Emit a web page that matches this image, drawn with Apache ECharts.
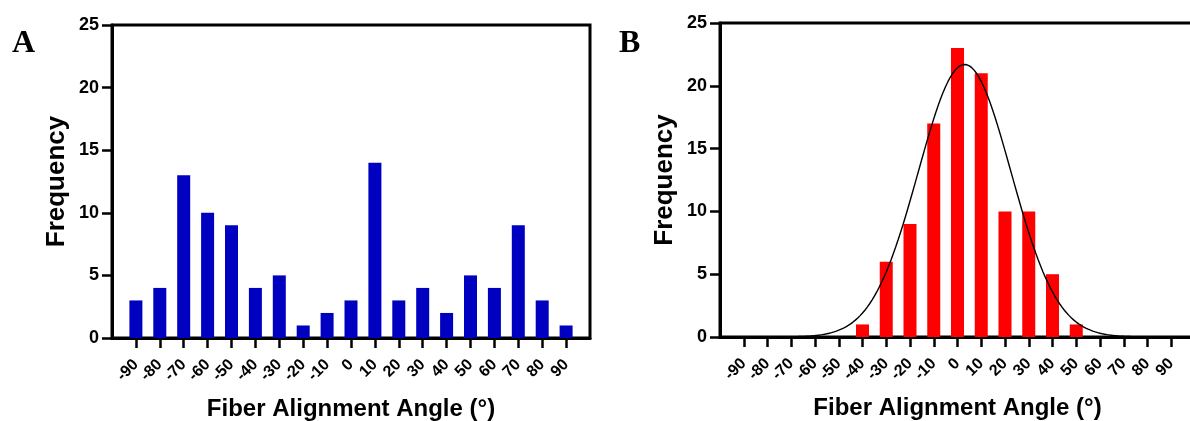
<!DOCTYPE html>
<html>
<head>
<meta charset="utf-8">
<script src="https://cdn.jsdelivr.net/npm/echarts@6/dist/echarts.min.js"></script>
<style>
  html, body { margin: 0; padding: 0; background: #fff; }
  #chart { width: 1190px; height: 421px; }
</style>
</head>
<body>
<div id="chart"></div>
<script>
// Bin centres (degrees) shared by both histograms
const angles = [-90, -80, -70, -60, -50, -40, -30, -20, -10, 0, 10, 20, 30, 40, 50, 60, 70, 80, 90];
// Panel A: fiber counts per bin
const freqA = [3, 4, 13, 10, 9, 4, 5, 1, 2, 3, 14, 3, 4, 2, 5, 4, 9, 3, 1];
// Panel B: fiber counts per bin
const freqB = [0, 0, 0, 0, 0, 1, 6, 9, 17, 23, 21, 10, 10, 5, 1, 0, 0, 0, 0];
// Frequency axis ticks
const freqTicks = [0, 5, 10, 15, 20, 25];
// Gaussian fit overlaid on panel B
const fitAmplitude = 21.7;
const fitMean = 3;
const fitSigma = 19.5;

const SANS = '"Liberation Sans", Arial, sans-serif';
const SERIF = '"Liberation Serif", "Times New Roman", serif';

const pairsA = angles.map((a, i) => [a, freqA[i]]);
const pairsB = angles.map((a, i) => [a, freqB[i]]);
const fitCurve = [];
for (let x = -100; x <= 100; x += 1) {
  fitCurve.push([x, fitAmplitude * Math.exp(-Math.pow(x - fitMean, 2) / (2 * fitSigma * fitSigma))]);
}

function xAxisFor(gridIndex) {
  return {
    type: 'value', gridIndex: gridIndex, min: -100, max: 100, interval: 10,
    axisLine: { show: true, onZero: false, lineStyle: { color: '#000', width: 3 } },
    axisTick: { show: true, length: 10, customValues: angles, lineStyle: { color: '#000', width: 2.5 } },
    axisLabel: {
      rotate: 45, customValues: angles, margin: 24, hideOverlap: false,
      showMinLabel: true, showMaxLabel: true,
      fontSize: 16, fontWeight: 'bold', color: '#000', fontFamily: SANS
    },
    splitLine: { show: false },
    name: 'Fiber Alignment Angle (°)', nameLocation: 'middle', nameGap: 59,
    nameTextStyle: { fontSize: 24, fontWeight: 'bold', color: '#000', fontFamily: SANS }
  };
}
function yAxisFor(gridIndex) {
  return {
    type: 'value', gridIndex: gridIndex, min: freqTicks[0], max: freqTicks[freqTicks.length - 1], interval: 5,
    axisLine: { show: true, onZero: false, lineStyle: { color: '#000', width: 3 } },
    axisTick: { show: true, length: 10, lineStyle: { color: '#000', width: 2.5 } },
    axisLabel: { margin: 13, fontSize: 18, fontWeight: 'bold', color: '#000', fontFamily: SANS },
    splitLine: { show: false },
    name: 'Frequency', nameLocation: 'middle', nameGap: 42, nameRotate: 90,
    nameTextStyle: { fontSize: 26, fontWeight: 'bold', color: '#000', fontFamily: SANS }
  };
}

const chart = echarts.init(document.getElementById('chart'), null, { renderer: 'canvas' });
chart.setOption({
  animation: false,
  backgroundColor: '#fff',
  grid: [
    { left: 112, top: 25, width: 478, height: 313, outerBoundsMode: 'none', containLabel: false,
      show: true, borderColor: '#000', borderWidth: 3, backgroundColor: 'transparent' },
    { left: 720, top: 23, width: 475, height: 314, outerBoundsMode: 'none', containLabel: false,
      show: true, borderColor: '#000', borderWidth: 3, backgroundColor: 'transparent' }
  ],
  xAxis: [xAxisFor(0), xAxisFor(1)],
  yAxis: [yAxisFor(0), yAxisFor(1)],
  graphic: [
    { type: 'text', left: 12, top: 28, style: { text: 'A', font: 'bold 32px ' + SERIF, fill: '#000' } },
    { type: 'text', left: 619, top: 28, style: { text: 'B', font: 'bold 32px ' + SERIF, fill: '#000' } }
  ],
  series: [
    {
      type: 'bar', xAxisIndex: 0, yAxisIndex: 0, data: pairsA, barWidth: 13,
      itemStyle: { color: '#0000C0' }
    },
    {
      type: 'bar', xAxisIndex: 1, yAxisIndex: 1, data: pairsB, barWidth: 13,
      itemStyle: { color: '#FF0000' }
    },
    {
      type: 'line', xAxisIndex: 1, yAxisIndex: 1, data: fitCurve, smooth: false,
      showSymbol: false, symbol: 'none', lineStyle: { color: '#000', width: 1.4 }, z: 5
    }
  ]
});
</script>
</body>
</html>
